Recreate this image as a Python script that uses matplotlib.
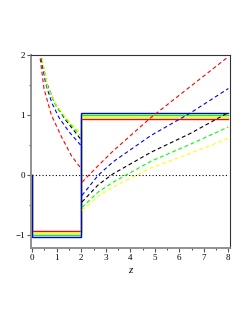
import numpy as np
import matplotlib
matplotlib.use("Agg")
import matplotlib.pyplot as plt
from matplotlib.ticker import MultipleLocator

# step levels (solid lines): value on 0<z<2 is minus the value on 2<z<8
colores = ["red", "#ffff00", "#00ff00", "#0000e0"]
niveles = [0.933, 0.97, 0.995, 1.03]

# dashed curves, left branch (0<z<2)
zi_rojo = [0.29, 0.48, 0.78, 1.2, 1.6, 1.97]
yi_rojo = [2.05, 1.44, 1.0, 0.63, 0.32, 0.12]
zi_azul = [0.31, 0.55, 0.8, 1.1, 1.5, 1.97]
yi_azul = [2.05, 1.52, 1.2, 0.95, 0.72, 0.5]
zi_negro = [0.33, 0.6, 0.9, 1.3, 1.97]
yi_negro = [2.05, 1.52, 1.22, 0.95, 0.6]
zi_verde = [0.34, 0.61, 1.0, 1.5, 1.97]
yi_verde = [2.05, 1.46, 1.12, 0.87, 0.66]
zi_amar = [0.35, 0.63, 1.0, 1.5, 1.97]
yi_amar = [2.05, 1.47, 1.15, 0.9, 0.7]

# dashed curves, right branch (2<z<8)
zd = [2.03, 2.7, 3.3, 4.85, 6.44, 8.0]
yd_rojo = [-0.12, 0.16, 0.4, 0.96, 1.47, 1.97]
yd_azul = [-0.34, 0.0, 0.22, 0.66, 1.03, 1.44]
yd_negro = [-0.45, -0.16, 0.02, 0.38, 0.69, 1.04]
yd_verde = [-0.54, -0.28, -0.12, 0.23, 0.51, 0.8]
yd_amar = [-0.59, -0.35, -0.2, 0.12, 0.36, 0.61]

plt.rcParams["font.family"] = ["Liberation Serif", "DejaVu Serif"]
fig = plt.figure(figsize=(2.49, 3.23), dpi=100)
ax = fig.add_axes([0.123, 0.232, 0.802, 0.598])

dash = (0, (3.5, 2.5))
lw = 0.8

ax.plot([0, 8], [0, 0], color="black", lw=0.8, linestyle=(0, (1, 2)))

for c, n in zip(colores, niveles):
    ax.plot([0, 0, 2, 2, 8], [0, -n, -n, n, n], color=c, lw=1.0, solid_joinstyle="miter")

ramas = [
    ("red", zi_rojo, yi_rojo, yd_rojo),
    ("blue", zi_azul, yi_azul, yd_azul),
    ("black", zi_negro, yi_negro, yd_negro),
    ("#00ff00", zi_verde, yi_verde, yd_verde),
    ("#ffff00", zi_amar, yi_amar, yd_amar),
]
for c, zi, yi, yd in ramas:
    ax.plot(zi, yi, color=c, lw=lw, linestyle=dash)
    ax.plot(zd, yd, color=c, lw=lw, linestyle=dash)

ax.set_xlim(-0.065, 8.08)
ax.set_ylim(-1.217, 2.0)
ax.xaxis.set_major_locator(MultipleLocator(1))
ax.xaxis.set_minor_locator(MultipleLocator(0.5))
ax.yaxis.set_major_locator(MultipleLocator(1))
ax.yaxis.set_minor_locator(MultipleLocator(0.5))
ax.tick_params(which="major", length=3, width=0.8, labelsize=6.5, pad=1, color="#555555")
ax.tick_params(which="minor", length=1.5, width=0.8, color="#555555")

for lado in ["left", "bottom"]:
    ax.spines[lado].set_color("#888888")
    ax.spines[lado].set_linewidth(1.3)
for lado in ["top", "right"]:
    ax.spines[lado].set_color("#333333")
    ax.spines[lado].set_linewidth(0.8)

ax.set_xlabel("z", fontsize=8, style="italic", labelpad=3)

fig.savefig("out.png", dpi=100)
